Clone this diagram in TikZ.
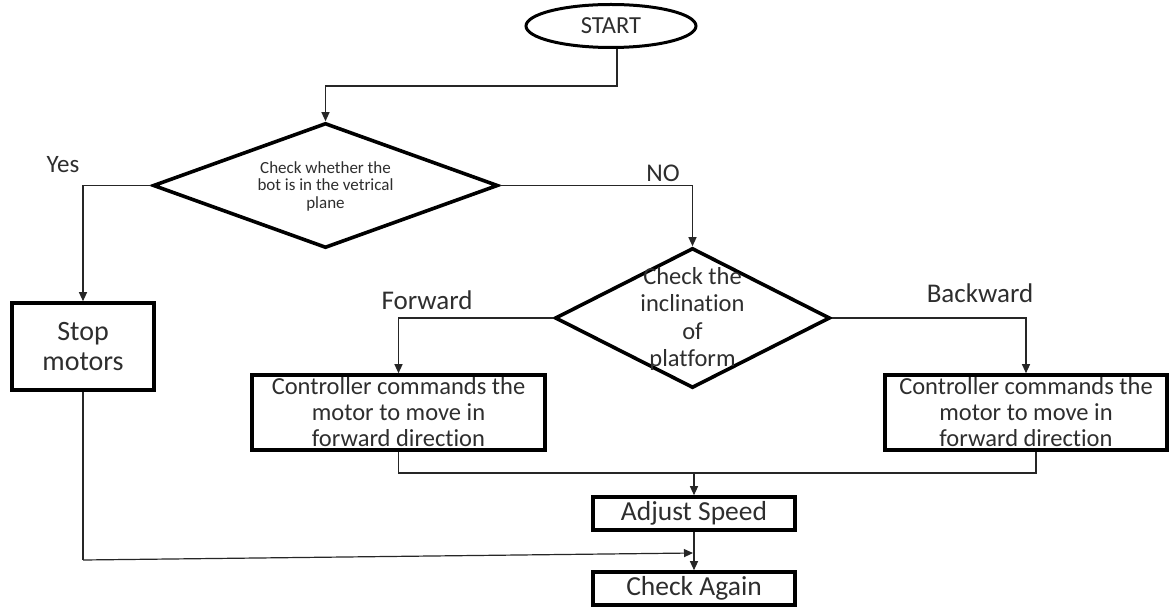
\documentclass[tikz,border=0pt]{standalone}
\usepackage{fontspec}
\setmainfont{Carlito}[Ligatures={NoCommon}]
\usetikzlibrary{shapes.geometric,arrows.meta,calc}
\begin{document}
\begin{tikzpicture}[x=1pt,y=-1pt,
  txt/.style={text=black!82, inner sep=0pt, align=center},
  boxnode/.style={draw, line width=3.6pt, rectangle, inner sep=0pt, align=center, text=black!82},
  dia/.style={draw, line width=3.6pt, diamond, inner sep=0pt},
  conn/.style={line width=1.2pt, draw=black!85},
  arr/.style={conn, -{Triangle[width=8pt,length=9pt]}},
  big/.style={font=\fontsize{24.5}{27}\selectfont},
  bigger/.style={font=\fontsize{27.5}{30}\selectfont}
]
\useasboundingbox (0,0) rectangle (1169,609);
\fill[white] (0,0) rectangle (1169,609);

% nodes
\node[draw, line width=3pt, ellipse, minimum width=170pt, minimum height=43pt, inner sep=0pt, text=black!82, big] (start) at (611,26) {START};

\node[dia, minimum width=345pt, minimum height=125pt] (d1) at (325.5,185.5) {};
\node[txt, font=\fontsize{17}{17.5}\selectfont] (d1t) at (325.5,186) {Check whether the\\bot is in the vetrical\\plane};

\node[dia, minimum width=275pt, minimum height=140pt] (d2) at (692.5,318) {};
\node[txt, font=\fontsize{24.5}{27.5}\selectfont] (d2t) at (692.5,319) {Check the\\inclination\\of\\platform};

\node[boxnode, minimum width=142pt, minimum height=87pt, font=\fontsize{28}{30}\selectfont] (stop) at (83,346.5) {Stop\\motors};

\node[boxnode, minimum width=293pt, minimum height=75pt, font=\fontsize{24.5}{26}\selectfont] (left) at (398.5,412.5) {Controller commands the\\motor to move in\\forward direction};
\node[boxnode, minimum width=282pt, minimum height=75pt, font=\fontsize{24.5}{26}\selectfont] (right) at (1026,412.5) {Controller commands the\\motor to move in\\forward direction};

\node[boxnode, minimum width=202pt, minimum height=33pt, bigger] (adjust) at (694,513.5) {Adjust Speed};
\node[boxnode, minimum width=202pt, minimum height=33pt, bigger] (check) at (694,588.5) {Check Again};

% labels
\node[txt, font=\fontsize{25}{27}\selectfont] (yes) at (63,165) {Yes};
\node[txt, font=\fontsize{25.5}{27}\selectfont] (no) at (663,173) {NO};
\node[txt, font=\fontsize{27}{29}\selectfont] (fwd) at (427,300) {Forward};
\node[txt, font=\fontsize{27}{29}\selectfont] (bwd) at (980,293) {Backward};

% connectors
\draw[arr] ([xshift=6pt]start.south) -- ++(0,37) -| (d1.north);
\draw[arr] (d1.west) -| (stop.north);
\draw[arr] (d1.east) -| (d2.north);
\draw[arr] (d2.west) -| (left.north);
\draw[arr] (d2.east) -| (right.north);

\coordinate (jn) at (adjust.north |- 0,473);
\draw[conn] (left.south) |- (jn) -| ([xshift=10pt]right.south);
\draw[arr] (jn) -- (adjust.north);
\draw[arr] (adjust.south) -- (check.north);

\coordinate (sc) at (stop.south |- 0,560);
\coordinate (se) at (693,553);
\draw[conn] (stop.south) -- (sc);
\draw[arr] (sc) -- (se);
\end{tikzpicture}
\end{document}
